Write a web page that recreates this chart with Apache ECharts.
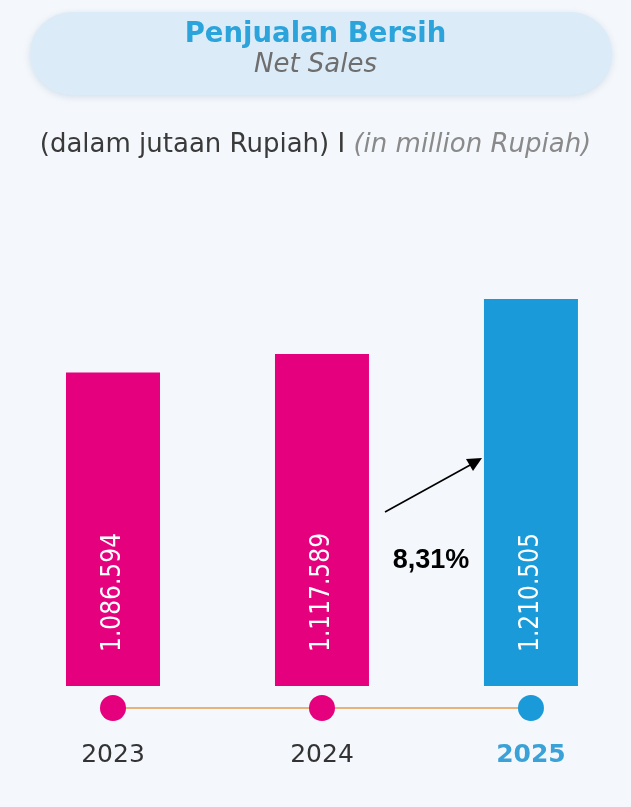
<!DOCTYPE html>
<html><head><meta charset="utf-8">
<script src="https://cdn.jsdelivr.net/npm/echarts@6/dist/echarts.min.js"></script>
<style>html,body{margin:0;padding:0;background:#f4f7fb}#c{width:631px;height:807px}</style>
</head><body><div id="c"></div>
<script>
const years = ['2023', '2024', '2025'];
const netSales = [1086594, 1117589, 1210505];
const growthLabel = '8,31%';
const titleText = 'Penjualan Bersih';
const subTitleText = 'Net Sales';
const unitId = '(dalam jutaan Rupiah) I ';
const unitEn = '(in million Rupiah)';

const PINK = '#e5007e', BLUE = '#1a9ad8';
const barColors = [PINK, PINK, BLUE];
const FONT = '"DejaVu Sans", Roboto, sans-serif';
const fmt = v => v.toLocaleString('de-DE');

const chart = echarts.init(document.getElementById('c'), null, {renderer: 'canvas'});
const xAxisBase = {type: 'value', min: -0.445, max: 2.383, show: false};
chart.setOption({
  backgroundColor: '#f4f7fb',
  animation: false,
  title: [
    {text: titleText, subtext: subTitleText, left: 'center', top: 14, itemGap: 0,
     textStyle: {color: '#2aa4db', fontSize: 27.5, lineHeight: 32, fontWeight: 'bold', fontFamily: FONT},
     subtextStyle: {color: '#6e6e6e', fontSize: 26, lineHeight: 28, fontStyle: 'italic', fontFamily: FONT}},
    {text: '{a|' + unitId + '}{b|' + unitEn + '}', left: 'center', top: 125,
     textStyle: {rich: {
       a: {color: '#3a3a3a', fontSize: 26, lineHeight: 30, fontWeight: 'normal', fontFamily: FONT},
       b: {color: '#8a8a8a', fontSize: 26, lineHeight: 30, fontWeight: 'normal', fontStyle: 'italic', fontFamily: FONT}}}}
  ],
  graphic: [
    {type: 'rect', z: -1, shape: {x: 30, y: 12, width: 582, height: 83, r: 42},
     style: {fill: '#dcebf8', shadowBlur: 6, shadowColor: 'rgba(150,180,210,0.35)', shadowOffsetY: 2}},
    {type: 'line', shape: {x1: 385, y1: 512, x2: 472, y2: 464},
     style: {stroke: '#000', lineWidth: 1.5}},
    {type: 'polygon', shape: {points: [[482, 458], [466, 459], [473, 471]]}, style: {fill: '#000'}},
    {type: 'text', style: {text: growthLabel, x: 431, y: 561, align: 'center', verticalAlign: 'middle',
      font: 'bold 27px "Liberation Sans", Arial', fill: '#000'}}
  ],
  grid: [
    {left: 20, right: 20, top: 230, bottom: 121},
    {left: 20, right: 20, top: 697, height: 22}
  ],
  xAxis: [Object.assign({gridIndex: 0}, xAxisBase), Object.assign({gridIndex: 1}, xAxisBase)],
  yAxis: [
    {gridIndex: 0, type: 'value', min: 557000, max: 1327200, show: false, splitLine: {show: false}},
    {gridIndex: 1, type: 'value', min: -1, max: 1, show: false, splitLine: {show: false}}
  ],
  series: [
    {type: 'bar', xAxisIndex: 0, yAxisIndex: 0, barWidth: 94,
     data: netSales.map((v, i) => ({value: [i, v], itemStyle: {color: barColors[i]}})),
     label: {show: true, position: 'insideBottom', rotate: 90, distance: 34,
       align: 'left', verticalAlign: 'middle', color: '#fff', fontSize: 26,
       fontFamily: '"DejaVu Sans Condensed", "Liberation Sans Narrow", Roboto',
       formatter: p => fmt(p.value[1])}},
    {type: 'line', xAxisIndex: 1, yAxisIndex: 1, symbol: 'circle', symbolSize: 26,
     lineStyle: {color: '#e9b27a', width: 2}, z: 3,
     data: years.map((y, i) => ({value: [i, 0], itemStyle: {color: barColors[i]},
       label: i === 2 ? {color: '#3aa2d6', fontWeight: 'bold'} : {}})),
     label: {show: true, position: 'bottom', distance: 22, color: '#333', fontSize: 25,
       fontFamily: FONT, formatter: p => years[p.dataIndex]}}
  ]
});
</script></body></html>
